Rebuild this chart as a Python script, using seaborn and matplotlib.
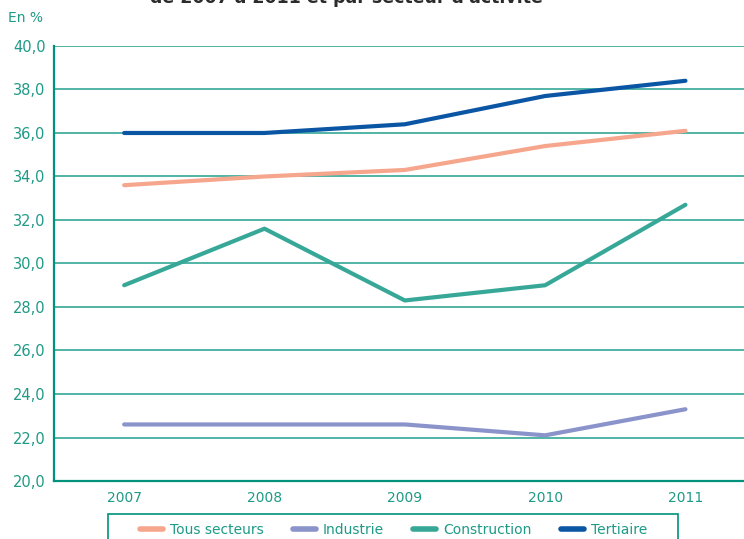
import pandas as pd
import matplotlib
matplotlib.use("Agg")
import matplotlib.pyplot as plt
from matplotlib.patches import Rectangle
import seaborn as sns

# données (en %)
annees = ["2007", "2008", "2009", "2010", "2011"]
tous_secteurs = [33.6, 34.0, 34.3, 35.4, 36.1]
industrie = [22.6, 22.6, 22.6, 22.1, 23.3]
construction = [29.0, 31.6, 28.3, 29.0, 32.7]
tertiaire = [36.0, 36.0, 36.4, 37.7, 38.4]

series = {
    "Tous secteurs": tous_secteurs,
    "Industrie": industrie,
    "Construction": construction,
    "Tertiaire": tertiaire,
}
couleurs = {
    "Tous secteurs": "#F6A68C",
    "Industrie": "#8B93CB",
    "Construction": "#37A898",
    "Tertiaire": "#0B56A4",
}

rows = []
for nom, vals in series.items():
    for i, v in enumerate(vals):
        rows.append({"idx": i, "valeur": v, "secteur": nom})
df = pd.DataFrame(rows)

sns.set_theme(style="white")
plt.rcParams["font.family"] = ["DejaVu Sans"]
TEAL = "#00927C"
TXT = "#1E9A86"

fig = plt.figure(figsize=(7.44, 5.39), dpi=100)
ax = fig.add_axes([0.0726, 0.1076, 0.943, 0.8071])

sns.lineplot(data=df, x="idx", y="valeur", hue="secteur", palette=couleurs,
             hue_order=list(series.keys()), linewidth=3.0, ax=ax, legend=False)

ax.set_xlim(-0.5, 4.5)
ax.set_ylim(20, 40)
ax.set_yticks(range(20, 41, 2))
ax.set_yticklabels([f"{v},0" for v in range(20, 41, 2)])
ax.set_xticks(range(len(annees)))
ax.set_xticklabels(annees)
ax.set_xticks([0.5, 1.5, 2.5, 3.5], minor=True)
ax.tick_params(axis="x", which="major", length=0, pad=7, labelsize=10, labelcolor=TXT)
ax.tick_params(axis="x", which="minor", length=6, width=1.3, color=TEAL, direction="out")
ax.tick_params(axis="y", length=4, width=1.3, color=TEAL, labelsize=10.5, labelcolor=TXT, pad=2)
ax.yaxis.grid(True, color=TEAL, linewidth=1.2, alpha=0.8)
ax.set_axisbelow(True)
ax.set_xlabel("")
ax.set_ylabel("")
for s in ["top", "right"]:
    ax.spines[s].set_visible(False)
for s in ["left", "bottom"]:
    ax.spines[s].set_color(TEAL)
    ax.spines[s].set_linewidth(1.6)

fig.text(0.011, 0.967, "En %", color=TXT, fontsize=10, va="center")
# titre coupé en haut, comme dans l'original
fig.text(0.465, 1.004, "de 2007 à 2011 et par secteur d'activité", fontsize=12.5,
         fontweight="bold", color="#2B2B2B", ha="center", va="center")

handles = [plt.Line2D([], [], color=couleurs[n], linewidth=4) for n in series]
leg = fig.legend(handles, list(series.keys()), loc="center",
                 bbox_to_anchor=(0.529, 0.0167), ncol=4, frameon=False,
                 fontsize=10, handlelength=1.65, columnspacing=2.1,
                 handletextpad=0.5, borderpad=0.0)
for t in leg.get_texts():
    t.set_color(TXT)

# cadre de la légende (coupé en bas)
fig.patches.append(Rectangle((108 / 744, -0.02), 570 / 744, 1 - 514 / 539 + 0.02,
                             transform=fig.transFigure, fill=False,
                             edgecolor=TEAL, linewidth=1.2))

fig.savefig("out.png", dpi=100)
